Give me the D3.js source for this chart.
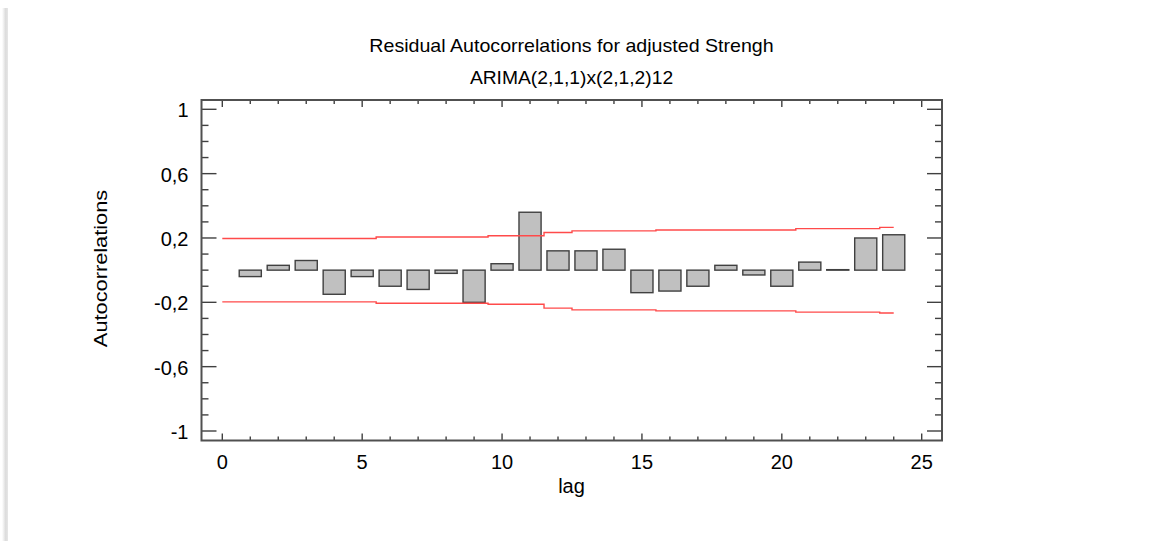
<!DOCTYPE html>
<html>
<head>
<meta charset="utf-8">
<script src="https://cdn.jsdelivr.net/npm/d3@7"></script>
<style>
  html, body { margin: 0; padding: 0; background: #ffffff; }
  svg { display: block; }
  text { font-family: "Liberation Sans", Arial, sans-serif; fill: #000; }
</style>
</head>
<body>
<svg id="chart" width="1175" height="541"></svg>
<script>
// ---- data ----
const lags = [1,2,3,4,5,6,7,8,9,10,11,12,13,14,15,16,17,18,19,20,21,22,23,24];
const autocorr = [-0.04, 0.03, 0.06, -0.15, -0.04, -0.10, -0.12, -0.02, -0.20, 0.04, 0.36, 0.12,
                  0.12, 0.13, -0.14, -0.13, -0.10, 0.03, -0.03, -0.10, 0.05, 0.003, 0.20, 0.22];
const limitLags = [0,1,2,3,4,5,6,7,8,9,10,11,12,13,14,15,16,17,18,19,20,21,22,23,24];
const upperLimit = [0.197,0.197,0.197,0.197,0.197,0.197,0.206,0.206,0.206,0.206,0.214,0.214,0.234,
                    0.244,0.244,0.244,0.250,0.250,0.250,0.250,0.250,0.258,0.258,0.258,0.266];
const lowerLimit = [-0.197,-0.197,-0.197,-0.197,-0.197,-0.197,-0.206,-0.206,-0.206,-0.206,-0.212,-0.212,-0.236,
                    -0.247,-0.247,-0.247,-0.253,-0.253,-0.253,-0.253,-0.253,-0.261,-0.261,-0.261,-0.266];
const yTickValues = [1, 0.6, 0.2, -0.2, -0.6, -1];
const yTickLabels = ["1", "0,6", "0,2", "-0,2", "-0,6", "-1"];
const xTickValues = [0, 5, 10, 15, 20, 25];
const titleText = "Residual Autocorrelations for adjusted Strengh";
const subtitleText = "ARIMA(2,1,1)x(2,1,2)12";
const xLabel = "lag";
const yLabel = "Autocorrelations";

// ---- layout ----
const svg = d3.select("#chart");
const frame = {left: 201.5, right: 942, top: 100, bottom: 440.5};
const x = d3.scaleLinear().domain([0, 25]).range([222.3, 921.7]);
const y = d3.scaleLinear().domain([-1, 1]).range([431, 109.3]);

// page left edge shadow
const grad = svg.append("defs").append("linearGradient").attr("id", "edge")
  .attr("x1", 0).attr("x2", 1).attr("y1", 0).attr("y2", 0);
grad.append("stop").attr("offset", 0).attr("stop-color", "#ffffff");
grad.append("stop").attr("offset", 0.6).attr("stop-color", "#dcdcdc");
grad.append("stop").attr("offset", 1).attr("stop-color", "#e6e6e6");
svg.append("rect").attr("x", 2).attr("y", 8).attr("width", 6).attr("height", 533).attr("fill", "url(#edge)");

// bars
const bw = 0.79;
svg.append("g").selectAll("rect").data(lags).join("rect")
  .attr("x", (d) => x(d - bw / 2))
  .attr("width", x(bw) - x(0))
  .attr("y", (d, i) => y(Math.max(0, autocorr[i])))
  .attr("height", (d, i) => Math.max(0.5, Math.abs(y(autocorr[i]) - y(0))))
  .attr("fill", "#c0c0c0")
  .attr("stroke", "#404040")
  .attr("stroke-width", 1.4);

// limit lines
const line = d3.line().x((d) => x(d[0])).y((d) => y(d[1])).curve(d3.curveStep);
[upperLimit, lowerLimit].forEach((arr) => {
  svg.append("path")
    .datum(limitLags.map((l, i) => [l, arr[i]]))
    .attr("d", line)
    .attr("fill", "none")
    .attr("stroke", "#ff4a4a")
    .attr("stroke-width", 1.4);
});

// axes with inward ticks
const tickColor = "#404040";
const minorY = d3.range(-10, 11).map((v) => v / 10);
const gTicks = svg.append("g").attr("stroke", tickColor).attr("stroke-width", 1.4);
minorY.forEach((v) => {
  const major = yTickValues.some((t) => Math.abs(t - v) < 1e-9);
  const len = major ? 15 : 7;
  gTicks.append("line").attr("x1", frame.left).attr("x2", frame.left + len).attr("y1", y(v)).attr("y2", y(v));
  gTicks.append("line").attr("x1", frame.right).attr("x2", frame.right - len).attr("y1", y(v)).attr("y2", y(v));
});
d3.range(0, 26).forEach((v) => {
  const len = v % 5 === 0 ? 7 : 4;
  gTicks.append("line").attr("x1", x(v)).attr("x2", x(v)).attr("y1", frame.top).attr("y2", frame.top + len);
  gTicks.append("line").attr("x1", x(v)).attr("x2", x(v)).attr("y1", frame.bottom).attr("y2", frame.bottom - len);
});

// frame
svg.append("rect")
  .attr("x", frame.left).attr("y", frame.top)
  .attr("width", frame.right - frame.left).attr("height", frame.bottom - frame.top)
  .attr("fill", "none").attr("stroke", "#505050").attr("stroke-width", 2);

// text
function label(g, tx, ty, str, anchor, size, sx) {
  g.append("text")
    .attr("transform", `translate(${tx},${ty}) scale(${sx},1)`)
    .attr("text-anchor", anchor)
    .attr("font-size", size)
    .text(str);
}
const gl = svg.append("g");
yTickValues.forEach((v, i) => label(gl, 188.5, y(v) + 8, yTickLabels[i], "end", 20, 1));
xTickValues.forEach((v) => label(gl, x(v), 468.5, String(v), "middle", 20, 1));

label(gl, 571.5, 52, titleText, "middle", 18, 1.09);
label(gl, 571.5, 84, subtitleText, "middle", 18, 1.07);
label(gl, 571.5, 493, xLabel, "middle", 20, 1);

// y label rotated
gl.append("text")
  .attr("transform", `translate(106.5,268.5) rotate(-90) scale(1.21,1)`)
  .attr("text-anchor", "middle")
  .attr("font-size", 18)
  .text(yLabel);
</script>
</body>
</html>
